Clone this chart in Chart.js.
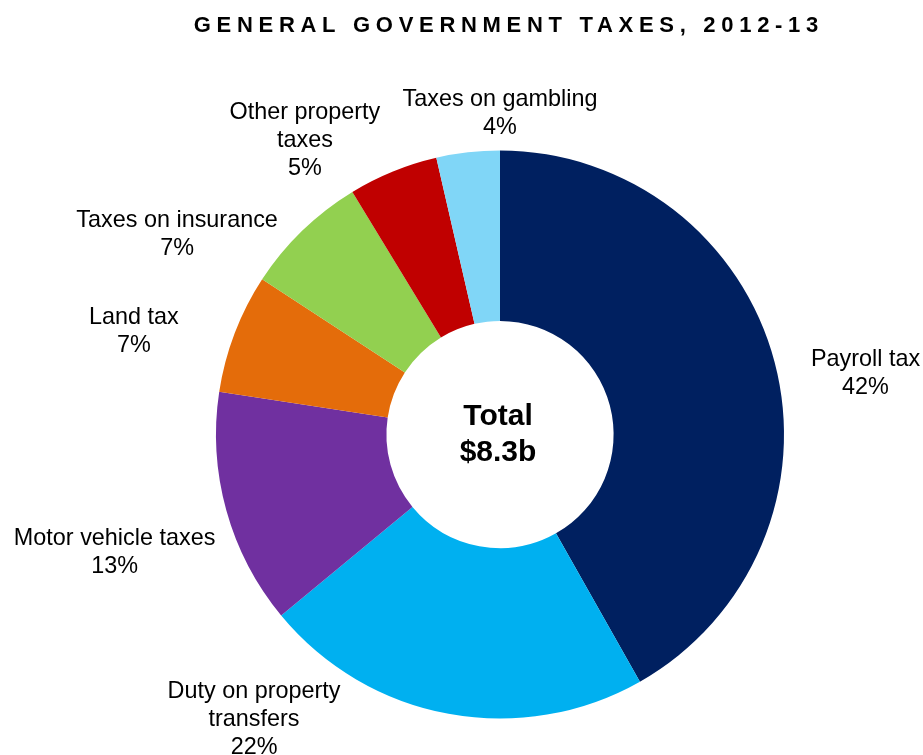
<!DOCTYPE html>
<html>
<head>
<meta charset="utf-8">
<script src="https://cdn.jsdelivr.net/npm/chart.js@4.4.1/dist/chart.umd.min.js"></script>
<style>
  html, body { margin: 0; padding: 0; background: #fff; }
  #wrap { width: 923px; height: 755px; position: relative; }
</style>
</head>
<body>
<div id="wrap"><canvas id="grafico"></canvas></div>
<script>
// Datos del gráfico
const chartTitle = 'GENERAL GOVERNMENT TAXES, 2012-13';
const categories = [
  'Payroll tax',
  ['Duty on property', 'transfers'],
  'Motor vehicle taxes',
  'Land tax',
  'Taxes on insurance',
  ['Other property', 'taxes'],
  'Taxes on gambling'
];
const values = [41.8, 22.2, 13.4, 6.8, 7.1, 5.1, 3.6];
const colors = ['#002060', '#00B0F0', '#7030A0', '#E46C0A', '#92D050', '#C00000', '#80D6F7'];
const totalLabel = 'Total';
const totalValue = '$8.3b';

// Posición de las etiquetas, relativa al centro (en radios exteriores)
const labelOffsets = [
  [1.287, -0.213],
  [-0.866, 1.002],
  [-1.357, 0.414],
  [-1.289, -0.363],
  [-1.137, -0.704],
  [-0.687, -1.035],
  [0, -1.130]
];

const FONT = '"Liberation Sans", Arial, sans-serif';

const etiquetas = {
  id: 'etiquetas',
  afterDraw(chart) {
    const ctx = chart.ctx;
    const meta = chart.getDatasetMeta(0);
    const suma = values.reduce((a, b) => a + b, 0);
    ctx.save();
    ctx.fillStyle = '#000';

    // Título
    ctx.font = 'bold 22px ' + FONT;
    ctx.letterSpacing = '5.7px';
    ctx.textAlign = 'left';
    ctx.textBaseline = 'alphabetic';
    const w = ctx.measureText(chartTitle).width;
    ctx.fillText(chartTitle, 506 - w / 2 + 2.85, 32);
    ctx.letterSpacing = '0px';

    // Etiquetas de cada sector
    ctx.font = '23.4px ' + FONT;
    ctx.textAlign = 'center';
    ctx.textBaseline = 'middle';
    meta.data.forEach((arc, i) => {
      const r = arc.outerRadius;
      const cx = arc.x + labelOffsets[i][0] * r;
      const cy = arc.y + labelOffsets[i][1] * r;
      const lineas = [].concat(categories[i], Math.round(values[i] / suma * 100) + '%');
      lineas.forEach((t, j) => {
        ctx.fillText(t, cx, cy + (j - (lineas.length - 1) / 2) * 28);
      });
    });

    // Total en el centro
    const a0 = meta.data[0];
    ctx.font = 'bold 30px ' + FONT;
    ctx.fillText(totalLabel, a0.x - 2, a0.y - 17.5);
    ctx.fillText(totalValue, a0.x - 2, a0.y + 18);
    ctx.restore();
  }
};

new Chart(document.getElementById('grafico').getContext('2d'), {
  type: 'doughnut',
  data: {
    labels: categories,
    datasets: [{
      data: values,
      backgroundColor: colors,
      borderWidth: 0
    }]
  },
  options: {
    responsive: true,
    maintainAspectRatio: false,
    animation: false,
    cutout: '40%',
    layout: { padding: { left: 216, right: 139, top: 150.5, bottom: 36.5 } },
    plugins: {
      legend: { display: false },
      title: { display: false },
      tooltip: { enabled: false }
    }
  },
  plugins: [etiquetas]
});
</script>
</body>
</html>
